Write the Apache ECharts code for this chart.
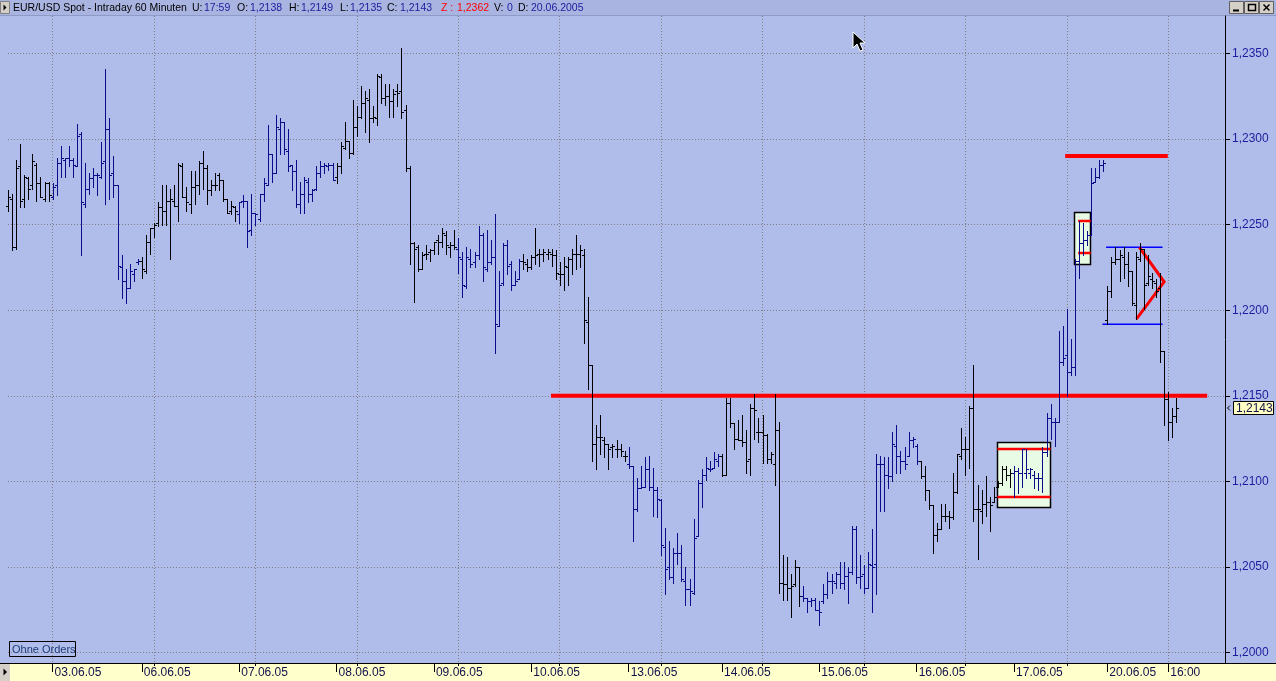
<!DOCTYPE html>
<html>
<head>
<meta charset="utf-8">
<title>EUR/USD Spot - Intraday 60 Minuten</title>
<script src="https://cdn.jsdelivr.net/npm/echarts@6/dist/echarts.min.js"></script>
<style>
  html, body { margin: 0; padding: 0; background: #b0bdea; }
  #chart { width: 1276px; height: 681px; }
</style>
</head>
<body>
<div id="chart"></div>
<script>
// hourly EUR/USD bars, 03.06.05 - 20.06.05
const opens = [
  1.2261,1.2265,1.2237,1.2284,1.2265,1.2277,1.2273,1.2285,1.2274,1.2265,
  1.2274,1.2266,1.2273,1.2286,1.2288,1.2289,1.2288,1.2284,1.2303,1.2262,
  1.2271,1.2277,1.2279,1.2278,1.2287,1.2306,1.2280,1.2273,1.2225,1.2217,
  1.2213,1.2221,1.2228,1.2229,1.2223,1.2240,1.2248,1.2251,1.2260,1.2258,
  1.2264,1.2264,1.2261,1.2284,1.2266,1.2262,1.2272,1.2273,1.2286,1.2283,
  1.2270,1.2273,1.2279,1.2276,1.2265,1.2258,1.2260,1.2256,1.2264,1.2264,
  1.2247,1.2257,1.2253,1.2268,1.2273,1.2291,1.2280,1.2306,1.2310,1.2293,
  1.2285,1.2281,1.2262,1.2268,1.2275,1.2268,1.2271,1.2280,1.2284,1.2284,
  1.2285,1.2278,1.2284,1.2295,1.2299,1.2292,1.2307,1.2313,1.2321,1.2323,
  1.2312,1.2312,1.2336,1.2324,1.2325,1.2322,1.2328,1.2328,1.2317,1.2283,
  1.2239,1.2237,1.2224,1.2233,1.2234,1.2235,1.2241,1.2240,1.2244,1.2237,
  1.2238,1.2236,1.2230,1.2214,1.2230,1.2228,1.2232,1.2244,1.2224,1.2228,
  1.2231,1.2191,1.2216,1.2238,1.2227,1.2215,1.2218,1.2229,1.2227,1.2225,
  1.2231,1.2233,1.2233,1.2233,1.2233,1.2232,1.2221,1.2221,1.2225,1.2230,
  1.2233,1.2233,1.2232,1.2193,1.2168,1.2122,1.2126,1.2124,1.2122,1.2120,
  1.2119,1.2119,1.2115,1.2110,1.2109,1.2084,1.2096,1.2097,1.2107,1.2097,
  1.2095,1.2089,1.2062,1.2050,1.2044,1.2058,1.2058,1.2042,1.2037,1.2035,
  1.2068,1.2099,1.2104,1.2107,1.2108,1.2112,1.2115,1.2104,1.2146,1.2134,
  1.2125,1.2124,1.2123,1.2113,1.2143,1.2129,1.2129,1.2127,1.2113,1.2110,
  1.2130,1.2041,1.2040,1.2038,1.2040,1.2050,1.2033,1.2032,1.2030,1.2031,
  1.2025,1.2030,1.2034,1.2042,1.2041,1.2046,1.2041,1.2045,1.2047,1.2072,
  1.2044,1.2046,1.2038,1.2051,1.2052,1.2110,1.2110,1.2104,1.2103,1.2121,
  1.2115,1.2112,1.2115,1.2124,1.2121,1.2112,1.2103,1.2095,1.2086,1.2069,
  1.2072,1.2080,1.2080,1.2079,1.2094,1.2115,1.2119,1.2119,1.2143,1.2084,
  1.2083,1.2087,1.2088,1.2088,1.2097,1.2099,1.2107,1.2104,1.2105,1.2106,
  1.2105,1.2105,1.2105,1.2104,1.2102,1.2102,1.2117,1.2137,1.2135,1.2135,
  1.2170,1.2174,1.2164,1.2167,1.2229,1.2239,1.2241,1.2244,1.2275,1.2278,
  1.2285,1.2194,1.2211,1.2228,1.2230,1.2231,1.2227,1.2223,1.2203,1.2230,
  1.2236,1.2216,1.2218,1.2216,1.2213,1.2176,1.2148,1.2135,1.2138
];
const highs = [
  1.2270,1.2268,1.2288,1.2297,1.2279,1.2278,1.2291,1.2286,1.2278,1.2275,
  1.2275,1.2274,1.2289,1.2296,1.2289,1.2296,1.2289,1.2309,1.2304,1.2286,
  1.2280,1.2283,1.2280,1.2298,1.2341,1.2312,1.2290,1.2273,1.2232,1.2224,
  1.2227,1.2224,1.2230,1.2231,1.2244,1.2248,1.2251,1.2263,1.2273,1.2273,
  1.2271,1.2273,1.2286,1.2286,1.2272,1.2281,1.2281,1.2287,1.2293,1.2285,
  1.2276,1.2280,1.2280,1.2276,1.2265,1.2264,1.2261,1.2263,1.2267,1.2264,
  1.2268,1.2257,1.2268,1.2277,1.2308,1.2291,1.2314,1.2312,1.2310,1.2306,
  1.2285,1.2288,1.2275,1.2278,1.2277,1.2271,1.2284,1.2287,1.2286,1.2286,
  1.2286,1.2286,1.2298,1.2310,1.2299,1.2323,1.2319,1.2331,1.2328,1.2329,
  1.2319,1.2338,1.2338,1.2332,1.2332,1.2329,1.2332,1.2353,1.2320,1.2284,
  1.2240,1.2238,1.2234,1.2238,1.2236,1.2240,1.2244,1.2248,1.2246,1.2240,
  1.2247,1.2242,1.2234,1.2237,1.2236,1.2234,1.2249,1.2245,1.2247,1.2241,
  1.2256,1.2223,1.2239,1.2241,1.2229,1.2223,1.2230,1.2233,1.2230,1.2232,
  1.2248,1.2236,1.2236,1.2236,1.2236,1.2235,1.2228,1.2231,1.2231,1.2236,
  1.2244,1.2238,1.2236,1.2208,1.2168,1.2133,1.2139,1.2126,1.2122,1.2122,
  1.2124,1.2122,1.2118,1.2120,1.2109,1.2102,1.2109,1.2114,1.2115,1.2108,
  1.2097,1.2090,1.2073,1.2065,1.2061,1.2070,1.2063,1.2050,1.2043,1.2078,
  1.2101,1.2107,1.2114,1.2112,1.2117,1.2116,1.2116,1.2149,1.2149,1.2134,
  1.2136,1.2139,1.2130,1.2145,1.2151,1.2137,1.2139,1.2128,1.2117,1.2151,
  1.2135,1.2057,1.2056,1.2046,1.2054,1.2050,1.2039,1.2032,1.2032,1.2032,
  1.2030,1.2040,1.2047,1.2046,1.2047,1.2053,1.2053,1.2050,1.2074,1.2074,
  1.2057,1.2051,1.2059,1.2072,1.2116,1.2115,1.2114,1.2114,1.2129,1.2133,
  1.2118,1.2120,1.2129,1.2126,1.2122,1.2112,1.2109,1.2095,1.2086,1.2076,
  1.2087,1.2087,1.2083,1.2105,1.2116,1.2131,1.2126,1.2144,1.2168,1.2098,
  1.2095,1.2103,1.2091,1.2097,1.2100,1.2109,1.2109,1.2107,1.2109,1.2108,
  1.2119,1.2119,1.2108,1.2106,1.2105,1.2120,1.2140,1.2145,1.2137,1.2188,
  1.2191,1.2201,1.2183,1.2230,1.2252,1.2251,1.2246,1.2283,1.2283,1.2288,
  1.2288,1.2214,1.2231,1.2237,1.2235,1.2237,1.2234,1.2223,1.2234,1.2239,
  1.2236,1.2232,1.2222,1.2218,1.2222,1.2176,1.2152,1.2143,1.2149
];
const lows = [
  1.2258,1.2235,1.2236,1.2260,1.2260,1.2265,1.2271,1.2264,1.2266,1.2264,
  1.2264,1.2265,1.2267,1.2278,1.2278,1.2284,1.2278,1.2284,1.2232,1.2260,
  1.2268,1.2272,1.2267,1.2277,1.2262,1.2265,1.2266,1.2218,1.2207,1.2204,
  1.2213,1.2217,1.2227,1.2219,1.2222,1.2233,1.2243,1.2249,1.2250,1.2250,
  1.2230,1.2261,1.2252,1.2266,1.2258,1.2257,1.2262,1.2268,1.2271,1.2262,
  1.2267,1.2270,1.2270,1.2264,1.2257,1.2256,1.2252,1.2251,1.2260,1.2237,
  1.2244,1.2250,1.2252,1.2264,1.2273,1.2275,1.2280,1.2291,1.2291,1.2281,
  1.2270,1.2260,1.2257,1.2257,1.2263,1.2264,1.2270,1.2278,1.2280,1.2282,
  1.2276,1.2274,1.2280,1.2294,1.2289,1.2291,1.2302,1.2312,1.2304,1.2298,
  1.2310,1.2308,1.2321,1.2320,1.2313,1.2313,1.2319,1.2312,1.2281,1.2227,
  1.2205,1.2223,1.2224,1.2230,1.2229,1.2233,1.2233,1.2237,1.2233,1.2231,
  1.2236,1.2222,1.2208,1.2213,1.2225,1.2225,1.2230,1.2217,1.2223,1.2227,
  1.2175,1.2191,1.2215,1.2221,1.2212,1.2215,1.2218,1.2224,1.2223,1.2224,
  1.2227,1.2226,1.2229,1.2230,1.2226,1.2218,1.2215,1.2212,1.2215,1.2221,
  1.2224,1.2225,1.2181,1.2154,1.2112,1.2107,1.2116,1.2114,1.2107,1.2114,
  1.2114,1.2115,1.2112,1.2108,1.2065,1.2083,1.2096,1.2097,1.2095,1.2080,
  1.2079,1.2057,1.2034,1.2043,1.2041,1.2052,1.2042,1.2028,1.2028,1.2034,
  1.2068,1.2085,1.2101,1.2106,1.2108,1.2109,1.2103,1.2104,1.2132,1.2119,
  1.2124,1.2121,1.2105,1.2104,1.2125,1.2123,1.2111,1.2111,1.2111,1.2098,
  1.2035,1.2031,1.2031,1.2021,1.2039,1.2027,1.2030,1.2024,1.2027,1.2025,
  1.2016,1.2029,1.2032,1.2035,1.2038,1.2038,1.2037,1.2029,1.2046,1.2041,
  1.2038,1.2035,1.2038,1.2024,1.2034,1.2083,1.2083,1.2096,1.2100,1.2105,
  1.2105,1.2107,1.2115,1.2120,1.2110,1.2102,1.2089,1.2084,1.2058,1.2065,
  1.2072,1.2077,1.2073,1.2078,1.2093,1.2113,1.2104,1.2108,1.2077,1.2055,
  1.2076,1.2080,1.2071,1.2088,1.2097,1.2098,1.2101,1.2097,1.2091,1.2093,
  1.2097,1.2102,1.2102,1.2096,1.2095,1.2094,1.2115,1.2125,1.2121,1.2135,
  1.2168,1.2150,1.2162,1.2162,1.2219,1.2232,1.2238,1.2244,1.2275,1.2277,
  1.2281,1.2192,1.2208,1.2227,1.2217,1.2219,1.2214,1.2203,1.2195,1.2229,
  1.2201,1.2215,1.2213,1.2208,1.2170,1.2133,1.2124,1.2126,1.2135
];
const closes = [
  1.2266,1.2237,1.2283,1.2264,1.2278,1.2271,1.2287,1.2274,1.2266,1.2274,
  1.2267,1.2272,1.2286,1.2289,1.2289,1.2288,1.2285,1.2302,1.2263,1.2271,
  1.2277,1.2279,1.2279,1.2286,1.2306,1.2279,1.2273,1.2226,1.2217,1.2213,
  1.2223,1.2224,1.2229,1.2224,1.2240,1.2248,1.2250,1.2260,1.2258,1.2264,
  1.2265,1.2261,1.2285,1.2266,1.2263,1.2272,1.2273,1.2286,1.2283,1.2270,
  1.2273,1.2273,1.2276,1.2265,1.2257,1.2261,1.2258,1.2263,1.2264,1.2246,
  1.2257,1.2256,1.2268,1.2274,1.2291,1.2280,1.2307,1.2310,1.2294,1.2284,
  1.2281,1.2262,1.2268,1.2276,1.2268,1.2270,1.2280,1.2284,1.2285,1.2285,
  1.2276,1.2284,1.2296,1.2299,1.2292,1.2307,1.2313,1.2321,1.2324,1.2312,
  1.2313,1.2337,1.2324,1.2325,1.2322,1.2326,1.2327,1.2316,1.2283,1.2239,
  1.2236,1.2224,1.2232,1.2233,1.2235,1.2240,1.2240,1.2245,1.2238,1.2238,
  1.2237,1.2231,1.2215,1.2231,1.2227,1.2232,1.2244,1.2225,1.2228,1.2231,
  1.2192,1.2215,1.2238,1.2226,1.2215,1.2217,1.2229,1.2228,1.2225,1.2231,
  1.2232,1.2233,1.2234,1.2234,1.2232,1.2222,1.2221,1.2226,1.2230,1.2233,
  1.2233,1.2235,1.2194,1.2168,1.2122,1.2126,1.2126,1.2122,1.2119,1.2121,
  1.2119,1.2118,1.2115,1.2109,1.2084,1.2096,1.2097,1.2107,1.2097,1.2095,
  1.2090,1.2063,1.2049,1.2044,1.2058,1.2058,1.2043,1.2037,1.2036,1.2067,
  1.2099,1.2104,1.2108,1.2107,1.2113,1.2115,1.2104,1.2146,1.2134,1.2125,
  1.2124,1.2123,1.2112,1.2143,1.2142,1.2129,1.2127,1.2113,1.2116,1.2130,
  1.2041,1.2040,1.2038,1.2039,1.2050,1.2033,1.2032,1.2030,1.2031,1.2025,
  1.2024,1.2034,1.2042,1.2042,1.2046,1.2041,1.2045,1.2047,1.2072,1.2044,
  1.2045,1.2038,1.2052,1.2050,1.2110,1.2110,1.2104,1.2103,1.2122,1.2115,
  1.2112,1.2110,1.2124,1.2125,1.2112,1.2103,1.2095,1.2086,1.2069,1.2072,
  1.2080,1.2080,1.2079,1.2094,1.2116,1.2119,1.2119,1.2143,1.2084,1.2084,
  1.2087,1.2088,1.2086,1.2091,1.2099,1.2107,1.2104,1.2105,1.2106,1.2105,
  1.2119,1.2107,1.2107,1.2102,1.2102,1.2117,1.2137,1.2135,1.2135,1.2170,
  1.2172,1.2164,1.2167,1.2229,1.2239,1.2241,1.2244,1.2274,1.2278,1.2285,
  1.2286,1.2211,1.2228,1.2230,1.2232,1.2227,1.2223,1.2204,1.2231,1.2236,
  1.2215,1.2220,1.2217,1.2211,1.2176,1.2148,1.2135,1.2138,1.2143
];

// bar index ranges painted blue (the rest are black)
const blueRanges = [[11, 32], [57, 80], [111, 126], [153, 175], [196, 224], [248, 270]];

// time axis: one slot per hour, empty slots on the right
const slotCount = 301;
const dayTickIndex = [11, 33, 57, 81, 105, 129, 153, 176, 200, 224, 248, 271, 286];
const dayTickLabels = ['03.06.05', '06.06.05', '07.06.05', '08.06.05', '09.06.05', '10.06.05',
  '13.06.05', '14.06.05', '15.06.05', '16.06.05', '17.06.05', '20.06.05', '16:00'];
const gridFirst = 11, gridStep = 25;

// price axis
const priceTicks = [1.2000, 1.2050, 1.2100, 1.2150, 1.2200, 1.2250, 1.2300, 1.2350];
const priceMin = 1.19940, priceMax = 1.23718;

// drawings (bar index, price)
const supportLine = { from: 133.85, to: 295.6, price: 1.2150 };
const resistanceLine = { from: 260.6, to: 285.9, price: 1.2290 };
const rangeBox = { from: 243.9, to: 257.0, top: 1.21229, bottom: 1.20851, lines: [1.2119, 1.20909] };
const flagBox = { from: 262.85, to: 266.9, top: 1.22572, bottom: 1.22268, lineFrom: 263.8, lines: [1.22521, 1.22334] };
const triangleEdges = [[270.7, 1.22367, 284.6, 1.22367], [269.8, 1.21918, 284.6, 1.21918]];
const triangleApex = [[278.9, 1.22367], [285.0, 1.22166], [278.2, 1.21949]];

const BLUE = '#0c0c8a';
const LABEL_BLUE = '#1c1c9e';
const FONT = '"Liberation Sans", Arial, sans-serif';

const fmt = v => v.toFixed(4).replace('.', ',');
const isBlue = i => blueRanges.some(r => i >= r[0] && i <= r[1]);
const isGridSlot = i => i >= gridFirst && (i - gridFirst) % gridStep === 0;

const categories = Array.from({ length: slotCount }, (_, i) => String(i));
const bars = opens.map((o, i) => [i, o, highs[i], lows[i], closes[i]]);
const last = bars.length - 1;

// category axis rounds fractional indices, so interpolate between slots
function coordAt(api, idx, price) {
  const i0 = Math.floor(idx);
  const f = idx - i0;
  const a = api.coord([i0, price]);
  if (!f) return a;
  const b = api.coord([i0 + 1, price]);
  return [a[0] + (b[0] - a[0]) * f, a[1]];
}

function renderBar(params, api) {
  const i = api.value(0);
  const h = api.coord([i, api.value(2)]);
  const l = api.coord([i, api.value(3)]);
  const o = api.coord([i, api.value(1)]);
  const c = api.coord([i, api.value(4)]);
  const px = Math.round(h[0]) + 0.5;
  const style = { stroke: isBlue(i) ? BLUE : '#000', lineWidth: 1 };
  const oy = Math.round(o[1]) + 0.5;
  const cy = Math.round(c[1]) + 0.5;
  return {
    type: 'group',
    children: [
      { type: 'line', shape: { x1: px, y1: Math.round(h[1]), x2: px, y2: Math.round(l[1]) + 1 }, style },
      { type: 'line', shape: { x1: px - 2.5, y1: oy, x2: px, y2: oy }, style },
      { type: 'line', shape: { x1: px, y1: cy, x2: px + 2.5, y2: cy }, style }
    ]
  };
}

function hLine(api, from, to, price, stroke, width) {
  const a = coordAt(api, from, price);
  const b = coordAt(api, to, price);
  return { type: 'line', shape: { x1: a[0], y1: a[1], x2: b[0], y2: b[1] }, style: { stroke, lineWidth: width } };
}

function boxRect(api, box) {
  const a = coordAt(api, box.from, box.top);
  const b = coordAt(api, box.to, box.bottom);
  return {
    type: 'rect',
    shape: { x: Math.round(a[0]) + 0.5, y: Math.round(a[1]) + 0.5, width: Math.round(b[0] - a[0]), height: Math.round(b[1] - a[1]) },
    style: { fill: '#e8fbe4', stroke: '#000', lineWidth: 1.5 }
  };
}

function renderDrawings(params, api) {
  const children = [
    boxRect(api, rangeBox),
    boxRect(api, flagBox),
    hLine(api, supportLine.from, supportLine.to, supportLine.price, '#ff0000', 4),
    hLine(api, resistanceLine.from, resistanceLine.to, resistanceLine.price, '#ff0000', 4)
  ];
  rangeBox.lines.forEach(p => children.push(hLine(api, rangeBox.from, rangeBox.to, p, '#ff0000', 2.5)));
  flagBox.lines.forEach(p => children.push(hLine(api, flagBox.lineFrom, flagBox.to, p, '#ff0000', 2.5)));
  triangleEdges.forEach(e => children.push(hLine(api, e[0], e[2], e[1], '#0000ff', 1.5)));
  children.push({
    type: 'polyline',
    shape: { points: triangleApex.map(p => coordAt(api, p[0], p[1])) },
    style: { stroke: '#ff0000', lineWidth: 3, fill: null }
  });
  return { type: 'group', children };
}

function renderLastPrice(params, api) {
  const pt = api.coord([api.value(0), api.value(1)]);
  const right = params.coordSys.x + params.coordSys.width;
  const y = Math.round(pt[1]);
  return {
    type: 'group',
    children: [
      { type: 'polyline', shape: { points: [[right + 5, y - 2.5], [right + 2.5, y], [right + 5, y + 2.5]] },
        style: { stroke: '#000', lineWidth: 1, fill: null } },
      { type: 'rect', shape: { x: right + 8.5, y: y - 6.5, width: 40, height: 13 },
        style: { fill: '#ffffc4', stroke: '#000', lineWidth: 1 } },
      { type: 'text', x: right + 11, y: y + 0.5,
        style: { text: fmt(api.value(1)), font: '12px ' + FONT, fill: '#14144a', verticalAlign: 'middle' } }
    ]
  };
}

// title bar pieces: [text, x, colour]
const titleBits = [
  ['EUR/USD Spot - Intraday 60 Minuten', 13, '#000'],
  ['U:', 192, '#000'], ['17:59', 204, LABEL_BLUE],
  ['O:', 237, '#000'], [fmt(opens[last]), 250, LABEL_BLUE],
  ['H:', 289, '#000'], [fmt(highs[last]), 301, LABEL_BLUE],
  ['L:', 340, '#000'], [fmt(lows[last]), 350, LABEL_BLUE],
  ['C:', 387, '#000'], [fmt(closes[last]), 400, LABEL_BLUE],
  ['Z :', 441, '#ff0000'], ['1,2362', 457, '#ff0000'],
  ['V:', 494, '#000'], ['0', 507, LABEL_BLUE],
  ['D:', 518, '#000'], ['20.06.2005', 531, LABEL_BLUE]
];

const graphics = [
  { type: 'rect', z: -5, shape: { x: 0, y: 0, width: 1276, height: 15 }, style: { fill: '#a9b5e0' } },
  { type: 'line', z: -5, shape: { x1: 0, y1: 15.5, x2: 1276, y2: 15.5 }, style: { stroke: '#8e9bc8', lineWidth: 1 } },
  { type: 'rect', z: 5, shape: { x: 0.5, y: 1.5, width: 9, height: 12 }, style: { fill: '#d4d0c8', stroke: '#808080', lineWidth: 1 } },
  { type: 'polygon', z: 6, shape: { points: [[3.5, 4.5], [3.5, 10.5], [6.5, 7.5]] }, style: { fill: '#000' } },
  // window buttons
  { type: 'rect', z: 5, shape: { x: 1229.5, y: 1.5, width: 14, height: 12 }, style: { fill: '#d4d0c8', stroke: '#606060', lineWidth: 1 } },
  { type: 'rect', z: 5, shape: { x: 1244.5, y: 1.5, width: 14, height: 12 }, style: { fill: '#d4d0c8', stroke: '#606060', lineWidth: 1 } },
  { type: 'rect', z: 5, shape: { x: 1259.5, y: 1.5, width: 14, height: 12 }, style: { fill: '#d4d0c8', stroke: '#606060', lineWidth: 1 } },
  { type: 'line', z: 6, shape: { x1: 1233, y1: 10.5, x2: 1239, y2: 10.5 }, style: { stroke: '#000', lineWidth: 2 } },
  { type: 'rect', z: 6, shape: { x: 1248.5, y: 4.5, width: 7, height: 6 }, style: { fill: null, stroke: '#000', lineWidth: 1.5 } },
  { type: 'line', z: 6, shape: { x1: 1263.5, y1: 4.5, x2: 1269.5, y2: 10.5 }, style: { stroke: '#000', lineWidth: 1.5 } },
  { type: 'line', z: 6, shape: { x1: 1269.5, y1: 4.5, x2: 1263.5, y2: 10.5 }, style: { stroke: '#000', lineWidth: 1.5 } },
  // time axis strip
  { type: 'rect', z: -5, shape: { x: 0, y: 663, width: 1276, height: 18 }, style: { fill: '#ffffcc' } },
  { type: 'line', z: 5, shape: { x1: 0, y1: 663.5, x2: 1276, y2: 663.5 }, style: { stroke: '#000', lineWidth: 1 } },
  { type: 'rect', z: 5, shape: { x: 0, y: 664, width: 10, height: 17 }, style: { fill: '#d4d0c8' } },
  { type: 'polygon', z: 6, shape: { points: [[3.5, 668.5], [3.5, 675.5], [7, 672]] }, style: { fill: '#000' } },
  // "Ohne Orders" tag
  { type: 'rect', z: 5, shape: { x: 9.5, y: 641.5, width: 66, height: 15 }, style: { fill: null, stroke: '#000', lineWidth: 1 } },
  { type: 'text', z: 5, x: 12, y: 649.5, style: { text: 'Ohne Orders', font: '11px ' + FONT, fill: '#1e3c78', verticalAlign: 'middle' } },
  // mouse pointer
  { type: 'polygon', z: 10, shape: { points: [[853, 32], [853, 48], [857, 44], [860, 51], [863, 50], [860, 43], [865, 43]] },
    style: { fill: '#000', stroke: '#fff', lineWidth: 1 } }
].concat(titleBits.map(b => ({
  type: 'text', z: 5, x: b[1], y: 8,
  style: { text: b[0], font: '10.5px ' + FONT, fill: b[2], verticalAlign: 'middle' }
})));

const chart = echarts.init(document.getElementById('chart'));

chart.setOption({
  animation: false,
  backgroundColor: '#b0bdea',
  grid: { left: 8, right: 51, top: 16, bottom: 18 },
  xAxis: [
    {
      type: 'category',
      data: categories,
      boundaryGap: false,
      axisLine: { show: false },
      axisTick: {
        interval: i => dayTickIndex.includes(i),
        length: 9,
        lineStyle: { color: '#000' }
      },
      axisLabel: {
        interval: i => dayTickIndex.includes(i),
        formatter: (v, i) => dayTickLabels[dayTickIndex.indexOf(i)] || '',
        align: 'left',
        padding: [0, 0, 0, 2],
        margin: 4,
        fontFamily: FONT,
        fontSize: 12,
        color: '#10104a'
      },
      splitLine: {
        show: true,
        interval: isGridSlot,
        lineStyle: { color: '#7f7f7f', type: [1, 2], width: 1 }
      }
    },
    {
      type: 'category',
      data: categories,
      boundaryGap: false,
      position: 'bottom',
      axisLine: { show: false },
      axisTick: { interval: isGridSlot, length: 3, lineStyle: { color: '#000' } },
      axisLabel: { show: false },
      splitLine: { show: false }
    }
  ],
  yAxis: {
    type: 'value',
    position: 'right',
    min: priceMin,
    max: priceMax,
    scale: true,
    axisLine: { show: true, lineStyle: { color: '#000', width: 1 } },
    axisTick: { show: true, length: 5, customValues: priceTicks, lineStyle: { color: '#000' } },
    axisLabel: {
      customValues: priceTicks,
      formatter: fmt,
      margin: 7,
      fontFamily: FONT,
      fontSize: 12,
      color: LABEL_BLUE
    },
    splitLine: { show: true, lineStyle: { color: '#7f7f7f', type: [1, 2], width: 1 } }
  },
  series: [
    {
      name: 'drawings',
      type: 'custom',
      z: 1,
      silent: true,
      renderItem: renderDrawings,
      data: [[0, priceMin]]
    },
    {
      name: 'EUR/USD',
      type: 'custom',
      z: 2,
      renderItem: renderBar,
      encode: { x: 0, y: [1, 2, 3, 4] },
      data: bars
    },
    {
      name: 'last',
      type: 'custom',
      z: 3,
      clip: false,
      renderItem: renderLastPrice,
      encode: { x: 0, y: 1 },
      data: [[last, closes[last]]]
    }
  ],
  graphic: graphics
});
</script>
</body>
</html>
